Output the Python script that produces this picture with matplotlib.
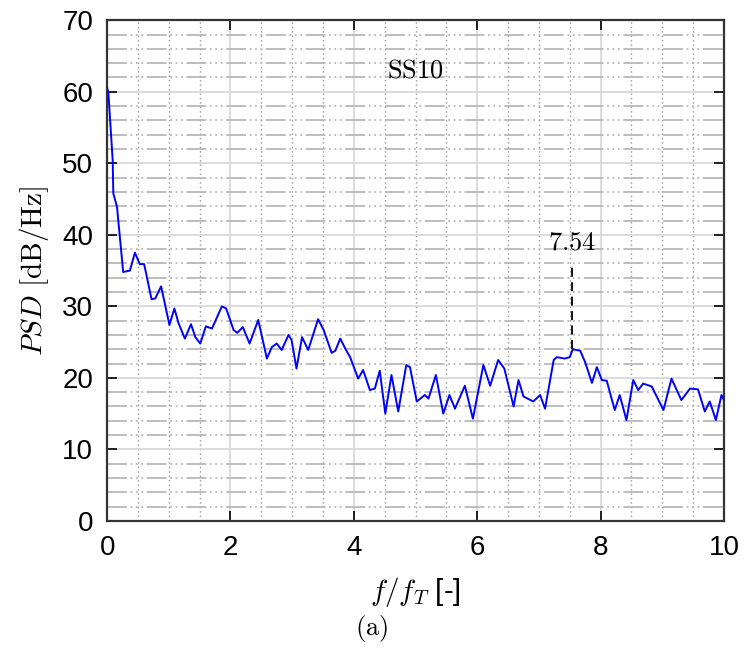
import matplotlib
matplotlib.use("Agg")
import matplotlib.pyplot as plt
from matplotlib.ticker import MultipleLocator

plt.rcParams['mathtext.fontset'] = 'cm'
plt.rcParams['font.family'] = ['Liberation Sans', 'DejaVu Sans']

# spectrum
f_ratio = [0.00, 0.02, 0.09, 0.10, 0.16, 0.26, 0.37, 0.45, 0.53, 0.60,
           0.72, 0.78, 0.875, 1.01, 1.09, 1.16, 1.26, 1.36, 1.43, 1.51,
           1.60, 1.70, 1.86, 1.93, 2.05, 2.11, 2.20, 2.31, 2.45, 2.59,
           2.67, 2.75, 2.83, 2.94, 2.99, 3.07, 3.16, 3.26, 3.42, 3.51,
           3.64, 3.70, 3.78, 3.86, 3.94, 4.07, 4.15, 4.26, 4.34, 4.42,
           4.51, 4.61, 4.72, 4.85, 4.91, 5.02, 5.15, 5.21, 5.33, 5.45,
           5.55, 5.64, 5.80, 5.93, 6.10, 6.21, 6.34, 6.44, 6.59, 6.67,
           6.75, 6.91, 7.02, 7.10, 7.24, 7.29, 7.42, 7.50, 7.55, 7.67,
           7.75, 7.86, 7.94, 8.02, 8.10, 8.23, 8.31, 8.42, 8.53, 8.61,
           8.69, 8.83, 9.02, 9.15, 9.31, 9.45, 9.58, 9.69, 9.77, 9.87,
           9.96, 10.0]
psd_db = [60.5, 59.9, 50.4, 45.8, 43.9, 34.8, 35.0, 37.5, 35.9, 35.9,
          31.0, 31.1, 32.8, 27.4, 29.7, 27.6, 25.5, 27.5, 25.7, 24.8,
          27.2, 26.9, 30.0, 29.7, 26.7, 26.3, 27.1, 24.8, 28.1, 22.7,
          24.3, 24.8, 23.9, 26.0, 25.3, 21.3, 25.7, 23.9, 28.2, 26.7,
          23.5, 23.8, 25.5, 24.1, 22.9, 19.9, 21.1, 18.3, 18.5, 21.0,
          15.0, 20.4, 15.3, 21.8, 21.5, 16.7, 17.6, 17.1, 20.4, 15.0,
          17.6, 15.7, 18.9, 14.3, 21.8, 18.9, 22.5, 21.3, 16.0, 19.7,
          17.4, 16.7, 17.6, 15.7, 22.5, 22.9, 22.7, 22.9, 24.0, 23.8,
          22.2, 19.3, 21.5, 19.7, 19.6, 15.5, 17.6, 14.1, 19.7, 18.3,
          19.2, 18.8, 15.5, 19.9, 16.9, 18.5, 18.4, 15.3, 16.7, 14.1,
          17.6, 16.9]

peak_f = 7.54
peak_line = [24.0, 36.0]
peak_label = '7.54'
case_name = 'SS10'

fig = plt.figure(figsize=(7.44, 6.52), dpi=100)
ax = fig.add_axes([0.144, 0.201, 0.829, 0.768])

ax.plot(f_ratio, psd_db, color='#0000ff', lw=1.4, zorder=3)
ax.plot([peak_f, peak_f], peak_line, color='k', lw=1.3, ls=(0, (5, 3)), zorder=3)
ax.text(peak_f, 37.2, r'$\mathrm{' + peak_label + '}$', ha='center', va='bottom', fontsize=19)
ax.text(5.0, 63.0, r'$\mathrm{' + case_name + '}$', ha='center', va='center', fontsize=19)

ax.set_xlim(0, 10)
ax.set_ylim(0, 70)
ax.xaxis.set_major_locator(MultipleLocator(2))
ax.yaxis.set_major_locator(MultipleLocator(10))
ax.xaxis.set_minor_locator(MultipleLocator(0.5))
ax.yaxis.set_minor_locator(MultipleLocator(2))

# MATLAB-like minor grid: dash + dots, major grid light solid
ax.grid(which='major', color='0.85', lw=1.3, ls='-')
ax.xaxis.grid(which='minor', color='0.6', lw=1.0, ls=(0, (1, 2.2)))
ax.yaxis.grid(which='minor', color='0.72', lw=1.3, ls=(0, (11, 2, 1, 2, 1, 2, 1, 2)))
ax.set_axisbelow(True)

ax.tick_params(which='major', direction='in', length=7, width=1.2, labelsize=20,
               top=True, right=True, pad=10)
ax.tick_params(which='minor', length=0)
for s in ax.spines.values():
    s.set_linewidth(1.6)
    s.set_color('0.2')

ax.set_ylabel(r'$PSD\ \mathrm{[dB/Hz]}$', fontsize=21, labelpad=8)
ax.set_xlabel(r'$f/f_T$ [-]', fontsize=21, labelpad=10)
fig.text(0.5, 0.012, r'$\mathrm{(a)}$', ha='center', va='bottom', fontsize=19)

fig.savefig('out.png', dpi=100)
